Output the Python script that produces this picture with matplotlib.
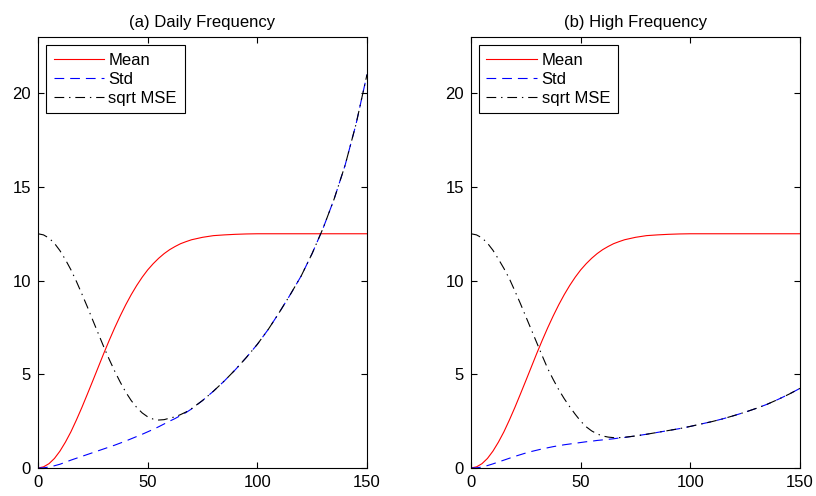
import matplotlib
matplotlib.use("Agg")
import matplotlib.pyplot as plt

plt.rcParams['font.family'] = ['Liberation Sans', 'DejaVu Sans']
plt.rcParams['font.size'] = 12
plt.rcParams['lines.scale_dashes'] = False

# horizon grid: 2.5 steps where the curves bend, 5 steps after
x = [0, 2.5, 5, 7.5, 10, 12.5, 15, 17.5, 20, 22.5, 25, 27.5, 30, 32.5, 35, 37.5, 40, 42.5,
     45, 47.5, 50, 52.5, 55, 57.5, 60, 62.5, 65, 67.5, 70, 75, 80, 85, 90, 95,
     100, 105, 110, 115, 120, 125, 130, 135, 140, 145, 150]

# (a) daily frequency
mean_a = [0.0, 0.06, 0.23, 0.51, 0.9, 1.38, 1.93, 2.56, 3.23, 3.94, 4.66, 5.39, 6.12, 6.82,
          7.49, 8.12, 8.71, 9.25, 9.74, 10.18, 10.57, 10.9, 11.19, 11.44, 11.65, 11.82, 11.97,
          12.08, 12.18, 12.31, 12.40, 12.44, 12.47, 12.49, 12.5, 12.5, 12.5, 12.5, 12.5,
          12.5, 12.5, 12.5, 12.5, 12.5, 12.5]
std_a = [0.0, 0.01, 0.05, 0.12, 0.2, 0.31, 0.42, 0.52, 0.62, 0.72, 0.82, 0.92, 1.02, 1.12,
         1.22, 1.33, 1.44, 1.56, 1.68, 1.8, 1.93, 2.06, 2.2, 2.35, 2.5, 2.64, 2.8, 2.96, 3.15,
         3.6, 4.1, 4.65, 5.25, 5.9, 6.6, 7.4, 8.3, 9.25, 10.25, 11.45, 12.8, 14.35, 16.15,
         18.35, 21.0]
rmse_a = [12.5, 12.44, 12.27, 11.99, 11.6, 11.12, 10.58, 9.96, 9.29, 8.6, 7.88, 7.17, 6.46,
          5.79, 5.16, 4.58, 4.05, 3.6, 3.23, 2.94, 2.73, 2.61, 2.56, 2.58, 2.66, 2.73, 2.85,
          2.99, 3.17, 3.6, 4.1, 4.65, 5.25, 5.9, 6.6, 7.4, 8.3, 9.25, 10.25, 11.45, 12.8,
          14.35, 16.15, 18.35, 21.0]

# (b) high frequency
mean_b = mean_a
std_b = [0.0, 0.01, 0.05, 0.13, 0.22, 0.32, 0.42, 0.52, 0.62, 0.71, 0.8, 0.88, 0.95, 1.02,
         1.08, 1.14, 1.19, 1.24, 1.28, 1.32, 1.36, 1.4, 1.43, 1.47, 1.5, 1.53, 1.56, 1.6, 1.63,
         1.71, 1.8, 1.9, 2.0, 2.1, 2.22, 2.35, 2.48, 2.63, 2.8, 2.98, 3.18, 3.4, 3.66, 3.94,
         4.25]
rmse_b = [12.5, 12.44, 12.28, 12.0, 11.62, 11.15, 10.65, 10.1, 9.45, 8.78, 8.08, 7.38, 6.68,
          5.98, 5.3, 4.72, 4.18, 3.7, 3.27, 2.87, 2.5, 2.2, 1.98, 1.82, 1.71, 1.65, 1.62, 1.62,
          1.64, 1.71, 1.8, 1.9, 2.0, 2.1, 2.22, 2.35, 2.48, 2.63, 2.8, 2.98, 3.18, 3.4, 3.66,
          3.94, 4.25]

titles = ['(a) Daily Frequency', '(b) High Frequency']
panels = [(mean_a, std_a, rmse_a), (mean_b, std_b, rmse_b)]

fig = plt.figure(figsize=(8.16, 4.96), dpi=100)
positions = [[38 / 816, 28 / 496, 329 / 816, 431 / 496],
             [471 / 816, 28 / 496, 329 / 816, 431 / 496]]

for pos, title, (m, s, r) in zip(positions, titles, panels):
    ax = fig.add_axes(pos)
    ax.plot(x, m, color='red', lw=0.8, label='Mean')
    ax.plot(x, s, color='blue', lw=0.8, dashes=(7, 4.3), label='Std')
    ax.plot(x, r, color='black', lw=0.8, dashes=(7, 3.5, 1, 3.5), label='sqrt MSE')
    ax.set_xlim(0, 150)
    ax.set_ylim(0, 23)
    ax.set_xticks([0, 50, 100, 150])
    ax.set_yticks([0, 5, 10, 15, 20])
    ax.tick_params(direction='in', top=True, right=True, length=4, width=0.8, pad=5)
    for sp in ax.spines.values():
        sp.set_linewidth(0.8)
    ax.set_title(title, fontsize=12, pad=7)
    leg = ax.legend(loc='upper left', fancybox=False, framealpha=1, edgecolor='black',
                    handlelength=3.0, borderpad=0.45, labelspacing=0.25, handletextpad=0.3,
                    borderaxespad=0.48)
    leg.get_frame().set_linewidth(0.8)

fig.savefig('out.png', dpi=100)
